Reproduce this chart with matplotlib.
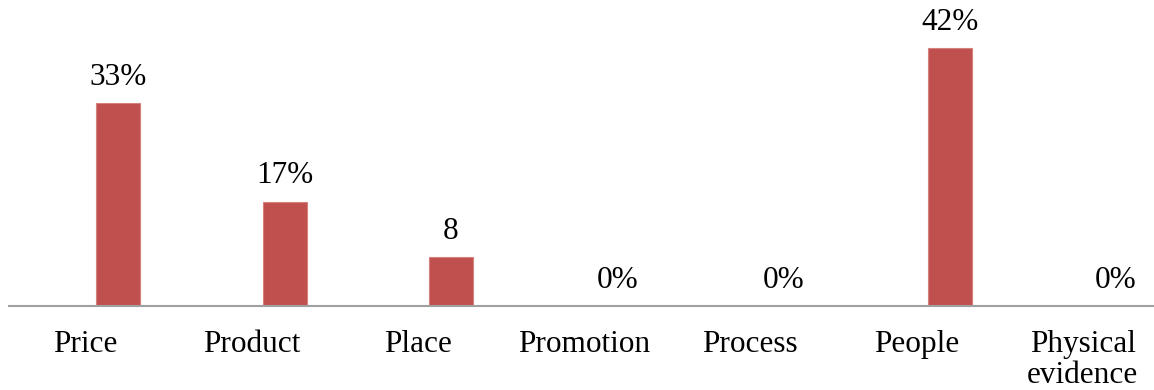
import matplotlib
matplotlib.use("Agg")
import matplotlib.pyplot as plt

categories = ["Price", "Product", "Place", "Promotion", "Process", "People", "Physical\nevidence"]
values = [33, 17, 8, 0, 0, 42, 0]
labels = ["33%", "17%", "8", "0%", "0%", "42%", "0%"]

plt.rcParams['font.family'] = ['Liberation Serif', 'DejaVu Serif']

fig = plt.figure(figsize=(11.54, 3.9), dpi=100)
ax = fig.add_axes([9/1154, 1 - 306/390, 1 - 9/1154, 306/390])

x = list(range(len(categories)))
offset = 0.2
bx = [i + offset for i in x]
ax.bar(bx, values, width=0.265, color='#C0504D', edgecolor='#D5827F', linewidth=0.8, zorder=2)

for xi, v, lab in zip(bx, values, labels):
    ax.annotate(lab, (xi, v), xytext=(0, 8), textcoords='offset points',
                ha='center', va='bottom', fontsize=22.5, color='black')

ax.set_xlim(-0.457, 6.428)
ax.set_ylim(0, 49.8)
ax.set_xticks(x)
ax.set_xticklabels(categories, fontsize=22.5, linespacing=1.1)
ax.tick_params(axis='x', length=0, pad=17)
ax.set_yticks([])
for s in ['top', 'right', 'left']:
    ax.spines[s].set_visible(False)
ax.spines['bottom'].set_color('#A0A0A0')
ax.spines['bottom'].set_linewidth(1.5)

fig.savefig('out.png', dpi=100)
